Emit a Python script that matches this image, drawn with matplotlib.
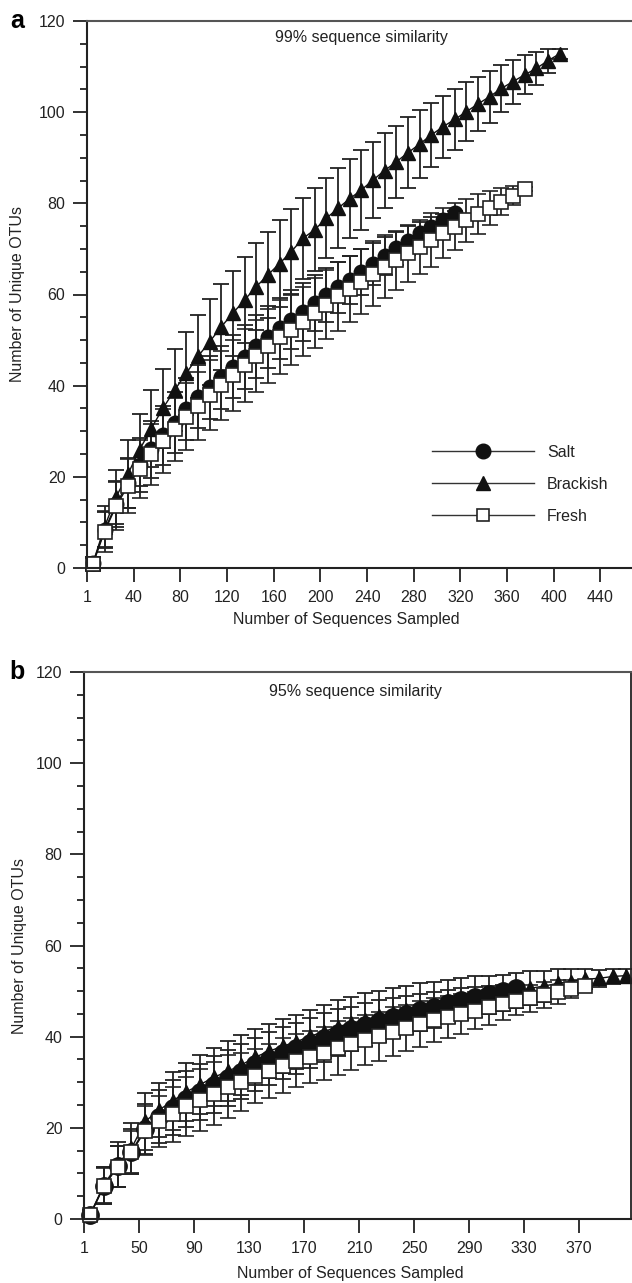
import numpy as np
import matplotlib
matplotlib.use("Agg")
import matplotlib.pyplot as plt
from matplotlib.ticker import MultipleLocator, FixedLocator
from matplotlib.lines import Line2D

plt.rcParams['font.family'] = ['Liberation Sans', 'DejaVu Sans']

# ---------------- data: panel a (99% similarity) ----------------
a_tick_pos = [0, 40, 80, 120, 160, 200, 240, 280, 320, 360, 400, 440]
a_tick_labels = ["1", "40", "80", "120", "160", "200", "240", "280", "320", "360", "400", "440"]

a_salt = [1.0, 8.3, 14.0, 18.6, 22.6, 26.0, 29.1, 31.9, 34.8, 37.6, 39.6, 41.8, 44.2, 46.2, 48.6, 50.6,
          52.6, 54.5, 56.2, 58.1, 59.9, 61.6, 63.2, 65.0, 66.7, 68.5, 70.1, 71.8, 73.4, 74.9, 76.3, 77.8]
a_salt_err = [1.5, 4.0, 5.0, 5.5, 6.0, 6.3, 6.5, 6.7, 6.8, 6.9, 6.9, 7.0, 7.0, 7.0, 6.9, 6.8,
              6.7, 6.5, 6.3, 6.1, 5.9, 5.6, 5.3, 5.0, 4.6, 4.2, 3.7, 3.2, 2.6, 2.0, 1.3, 0.5]

a_brackish = [1.0, 9.0, 15.6, 20.6, 25.9, 30.6, 35.0, 39.0, 42.7, 46.4, 49.6, 52.9, 55.9, 58.8, 61.7, 64.3,
              66.8, 69.4, 72.3, 74.2, 76.7, 78.9, 81.0, 82.9, 85.1, 87.2, 89.1, 91.1, 93.0, 95.0, 96.8,
              98.4, 100.1, 101.8, 103.4, 105.2, 106.7, 108.2, 109.6, 111.3, 112.8]
a_brackish_err = [1.5, 4.5, 6.0, 7.5, 7.9, 8.5, 8.7, 9.0, 9.1, 9.1, 9.4, 9.4, 9.3, 9.5, 9.5, 9.5,
                  9.5, 9.3, 8.8, 9.1, 8.8, 8.8, 8.7, 8.8, 8.4, 8.2, 7.9, 7.8, 7.5, 7.1, 6.8,
                  6.7, 6.5, 6.0, 5.7, 5.2, 4.8, 4.3, 3.7, 2.6, 1.1]

a_fresh = [0.8, 8.0, 13.6, 18.0, 21.7, 24.9, 27.9, 30.4, 33.2, 35.5, 38.0, 40.1, 42.3, 44.5, 46.6, 48.7,
           50.7, 52.2, 54.0, 55.9, 57.8, 59.6, 61.2, 62.8, 64.6, 66.1, 67.5, 69.0, 70.4, 72.0, 73.4,
           74.9, 76.3, 77.7, 79.0, 80.4, 81.7, 83.1]
a_fresh_err = [1.5, 4.4, 5.3, 6.0, 6.4, 6.7, 7.0, 6.9, 7.3, 7.4, 7.7, 7.6, 7.8, 8.0, 7.9, 8.2,
               8.1, 7.7, 7.6, 7.7, 7.6, 7.6, 7.2, 7.1, 7.1, 6.9, 6.5, 6.3, 6.0, 5.9, 5.5,
               5.1, 4.7, 4.4, 3.7, 3.0, 2.0, 0.5]

# ---------------- data: panel b (95% similarity) ----------------
b_tick_pos = [10, 50, 90, 130, 170, 210, 250, 290, 330, 370, 410]
b_tick_labels = ["1", "50", "90", "130", "170", "210", "250", "290", "330", "370", ""]

b_salt = [0.9, 7.3, 11.6, 14.8, 19.8, 22.4, 24.4, 26.3, 27.9, 29.5, 30.9, 32.3, 33.9, 35.2, 36.4, 37.5,
          38.7, 39.8, 40.9, 41.7, 42.6, 43.5, 44.3, 45.0, 45.8, 46.5, 47.3, 48.0, 48.7, 49.4, 50.1, 50.6]
b_salt_err = [1.0, 4.0, 4.5, 5.0, 5.5, 5.8, 6.0, 6.2, 6.2, 6.2, 6.1, 6.0, 5.9, 5.8, 5.7, 5.6,
              5.5, 5.3, 5.1, 4.9, 4.7, 4.5, 4.2, 3.9, 3.6, 3.3, 3.0, 2.6, 2.2, 1.8, 1.3, 0.8]

b_brackish = [1.0, 7.5, 12.0, 15.5, 21.4, 23.9, 25.9, 27.9, 29.5, 31.1, 32.4, 33.8, 35.5, 36.8, 37.9, 38.9,
              40.1, 41.1, 42.2, 42.9, 43.7, 44.5, 45.2, 45.8, 46.5, 47.0, 47.7, 48.2, 48.8, 49.2,
              49.6, 50.1, 50.6, 51.1, 51.7, 52.1, 52.6, 52.8, 53.2, 53.4]
b_brackish_err = [1.0, 4.0, 5.0, 5.5, 6.2, 6.0, 6.3, 6.3, 6.4, 6.4, 6.6, 6.5, 6.1, 5.9, 5.9, 5.9,
                  5.7, 5.8, 5.8, 5.8, 5.8, 5.6, 5.5, 5.3, 5.2, 5.0, 4.8, 4.6, 4.4, 4.2,
                  4.0, 3.9, 3.7, 3.4, 3.1, 2.8, 2.2, 1.9, 1.6, 1.4]

b_fresh = [0.9, 7.2, 11.5, 14.6, 19.4, 21.4, 23.0, 24.7, 26.1, 27.5, 29.0, 30.1, 31.4, 32.5, 33.6, 34.7,
           35.5, 36.4, 37.5, 38.4, 39.3, 40.1, 41.1, 41.9, 42.8, 43.6, 44.3, 45.0, 45.7, 46.4,
           47.1, 47.8, 48.4, 49.1, 49.8, 50.5, 51.1]
b_fresh_err = [1.0, 4.0, 4.5, 4.8, 5.4, 5.5, 6.0, 6.5, 6.9, 6.9, 6.9, 6.4, 6.0, 6.0, 6.0, 5.8,
               5.7, 5.8, 5.9, 5.7, 5.5, 5.4, 5.3, 5.1, 5.0, 4.8, 4.7, 4.4, 4.1, 3.8,
               3.4, 3.1, 2.9, 2.8, 2.6, 2.0, 0.6]

series_names = ["Salt", "Brackish", "Fresh"]

FS = 11.5
W, H = 632, 1283
fig = plt.figure(figsize=(W / 100, H / 100), dpi=100)
axA = fig.add_axes([87 / W, 1 - 568 / H, (632 - 87) / W, (568 - 21) / H])
axB = fig.add_axes([84 / W, 1 - 1219 / H, (631 - 84) / W, (1219 - 672) / H])

EC = '#222222'


def draw(ax, x0, salt, salt_e, brack, brack_e, fresh, fresh_e, circ_size):
    styles = [
        (salt, salt_e, dict(marker='o', markersize=circ_size, markerfacecolor='#111111',
                            markeredgecolor='#111111')),
        (brack, brack_e, dict(marker='^', markersize=10.5, markerfacecolor='#111111',
                              markeredgecolor='#111111')),
        (fresh, fresh_e, dict(marker='s', markersize=9.5, markerfacecolor='white',
                              markeredgecolor='#222222', markeredgewidth=1.2)),
    ]
    for (vals, errs, st), name in zip(styles, series_names):
        xs = x0 + 10 * np.arange(len(vals))
        cont = ax.errorbar(xs, vals, yerr=errs, color='#111111', lw=1.0, ecolor=EC,
                           elinewidth=1.3, capsize=5.5, capthick=1.3, clip_on=False,
                           label=name, **st)
        for art in cont.get_children():
            art.set_clip_on(False)


draw(axA, 5, a_salt, a_salt_err, a_brackish, a_brackish_err, a_fresh, a_fresh_err, 10.5)
draw(axB, 14.5, b_salt, b_salt_err, b_brackish, b_brackish_err, b_fresh, b_fresh_err, 12.5)

for ax, tp, tl, xlim in [(axA, a_tick_pos, a_tick_labels, (0, 467)),
                         (axB, b_tick_pos, b_tick_labels, (10, 407.8))]:
    ax.set_xlim(*xlim)
    ax.set_ylim(0, 120)
    ax.xaxis.set_major_locator(FixedLocator(tp))
    ax.set_xticklabels(tl)
    ax.yaxis.set_major_locator(MultipleLocator(20))
    ax.yaxis.set_minor_locator(MultipleLocator(5))
    ax.tick_params(axis='both', which='major', direction='out', length=10, width=1.3,
                   labelsize=FS, pad=5.5, color='#222222', labelcolor='#222222')
    ax.tick_params(axis='y', which='minor', direction='out', length=5, width=1.3, color='#222222')
    for s in ['left', 'bottom']:
        ax.spines[s].set_linewidth(1.5)
        ax.spines[s].set_color('#222222')
    ax.spines['top'].set_linewidth(1.5)
    ax.spines['top'].set_color('#555555')
    ax.set_ylabel("Number of Unique OTUs", fontsize=FS, color='#222222')
    ax.set_xlabel("Number of Sequences Sampled", fontsize=FS, color='#222222')

axA.spines['right'].set_visible(False)
axB.spines['right'].set_linewidth(1.3)
axB.spines['right'].set_color('#222222')

axA.yaxis.set_label_coords(-62 / 545, 0.5)
axB.yaxis.set_label_coords(-57 / 547, 0.5)
axA.xaxis.set_label_coords((346 - 87) / 545, -44 / 547)
axB.xaxis.set_label_coords((350 - 84) / 547, -47 / 547)

axA.text(0.503, 0.969, "99% sequence similarity", transform=axA.transAxes, ha='center',
         va='center', fontsize=FS, color='#222222')
axB.text(0.497, 0.964, "95% sequence similarity", transform=axB.transAxes, ha='center',
         va='center', fontsize=FS, color='#222222')

fig.text(17 / W, 1 - 21 / H, "a", fontsize=18, fontweight='bold', ha='center', va='center')
fig.text(17 / W, 1 - 672 / H, "b", fontsize=18, fontweight='bold', ha='center', va='center')

# legend in panel a (no error bars in handles)
leg_handles = [
    Line2D([], [], color='#333333', lw=1.0, marker='o', markersize=10.5, markerfacecolor='#111111',
           markeredgecolor='#111111'),
    Line2D([], [], color='#333333', lw=1.0, marker='^', markersize=10, markerfacecolor='#111111',
           markeredgecolor='#111111'),
    Line2D([], [], color='#333333', lw=1.0, marker='s', markersize=8.5, markerfacecolor='white',
           markeredgecolor='#222222', markeredgewidth=1.2),
]
leg = axA.legend(leg_handles, series_names, loc='upper left',
                 bbox_to_anchor=((432 - 87) / 545, 1 - (445 - 21) / 547),
                 frameon=False, fontsize=FS, handlelength=6.4, handletextpad=0.8,
                 labelspacing=1.05, borderpad=0, borderaxespad=0, numpoints=1)
for t in leg.get_texts():
    t.set_color('#222222')

fig.savefig("out.png", dpi=100)
